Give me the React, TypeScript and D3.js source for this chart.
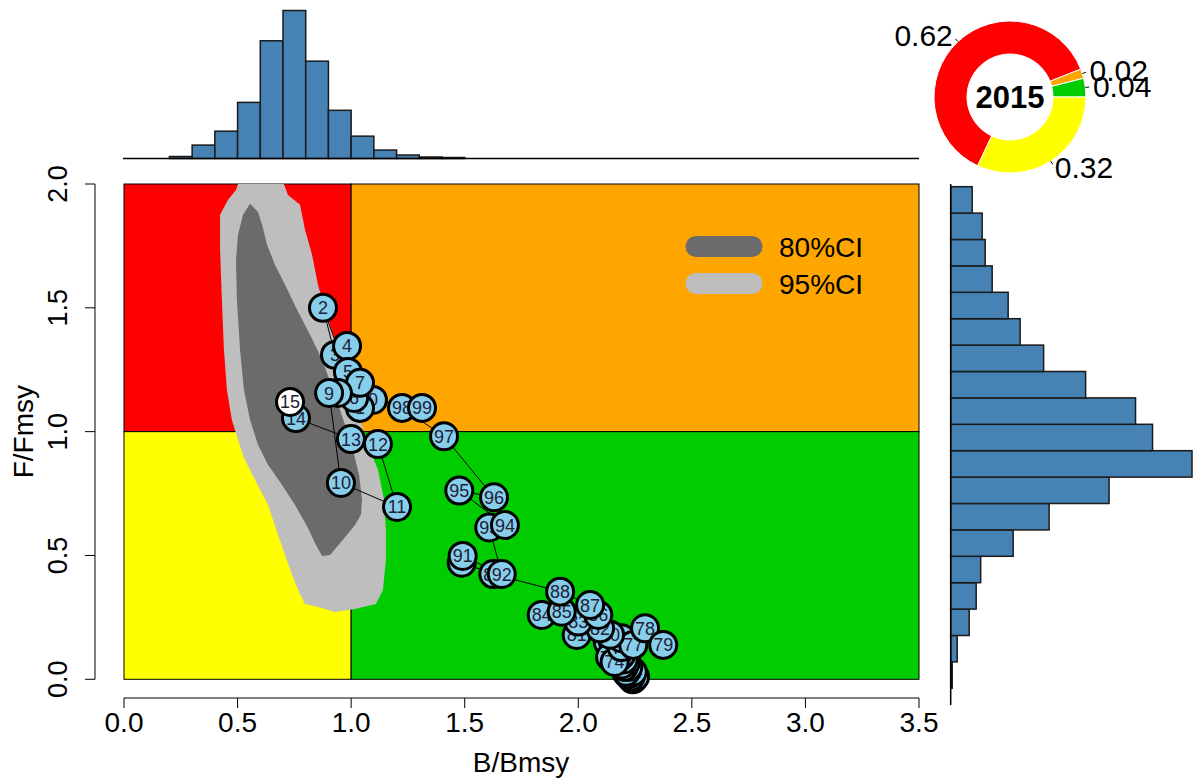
import React from 'react';
import * as d3 from 'd3';

// ---- trajectory (year label, B/Bmsy, F/Fmsy) ----
const trajYears = [
  1950, 1951, 1952, 1953, 1954, 1955, 1956, 1957, 1958, 1959,
  1960, 1961, 1962, 1963, 1964, 1965, 1966, 1967, 1968, 1969,
  1970, 1971, 1972, 1973, 1974, 1975, 1976, 1977, 1978, 1979,
  1980, 1981, 1982, 1983, 1984, 1985, 1986, 1987, 1988, 1989,
  1990, 1991, 1992, 1993, 1994, 1995, 1996, 1997, 1998, 1999,
  2000, 2001, 2002, 2003, 2004, 2005, 2006, 2007, 2008, 2009,
  2010, 2011, 2012, 2013, 2014, 2015,
];
const trajB = [
  2.24, 2.25, 2.23, 2.22, 2.24, 2.21, 2.22, 2.2, 2.21, 2.19,
  2.2, 2.18, 2.19, 2.17, 2.18, 2.16, 2.15, 2.17, 2.14, 2.16,
  2.13, 2.15, 2.17, 2.14, 2.16, 2.19, 2.19, 2.242, 2.294, 2.374,
  2.14, 1.993, 2.096, 2.0, 1.839, 1.927, 2.088, 2.052, 1.92, 1.626,
  1.487, 1.491, 1.663, 1.608, 1.677, 1.476, 1.629, 1.409, 1.224, 1.312,
  1.096, 1.039, 0.876, 0.929, 0.982, 0.986, 1.013, 1.039, 0.942, 0.903,
  0.955, 1.202, 1.118, 0.999, 0.757, 0.731,
];
const trajF = [
  0.0, 0.01, 0.01, 0.02, 0.03, 0.03, 0.05, 0.05, 0.07, 0.06,
  0.08, 0.09, 0.1, 0.1, 0.12, 0.11, 0.13, 0.14, 0.14, 0.15,
  0.15, 0.16, 0.12, 0.09, 0.07, 0.13, 0.166, 0.139, 0.206, 0.139,
  0.18, 0.179, 0.206, 0.233, 0.26, 0.273, 0.26, 0.3, 0.354, 0.425,
  0.471, 0.498, 0.425, 0.613, 0.623, 0.762, 0.735, 0.981, 1.096, 1.096,
  1.128, 1.096, 1.5, 1.31, 1.346, 1.241, 1.136, 1.197, 1.156, 1.156,
  0.793, 0.696, 0.95, 0.97, 1.055, 1.12,
];

// ---- confidence regions (B/Bmsy, F/Fmsy) ----
const ci95 = [
  [0.502, 2.0], [0.704, 2.0], [0.722, 1.956], [0.775, 1.916], [0.797, 1.815],
  [0.828, 1.714], [0.854, 1.593], [0.885, 1.492], [0.929, 1.37], [0.973, 1.249],
  [1.017, 1.128], [1.048, 1.027], [1.074, 0.947], [1.118, 0.846], [1.145, 0.725],
  [1.153, 0.604], [1.153, 0.482], [1.14, 0.361], [1.109, 0.304], [1.017, 0.284],
  [0.929, 0.272], [0.854, 0.292], [0.797, 0.304], [0.77, 0.353], [0.74, 0.421],
  [0.709, 0.502], [0.678, 0.583], [0.634, 0.704], [0.577, 0.805], [0.528, 0.894],
  [0.502, 0.967], [0.475, 1.047], [0.453, 1.168], [0.44, 1.33], [0.431, 1.532],
  [0.423, 1.734], [0.423, 1.876], [0.458, 1.936], [0.493, 1.976],
];
const ci80 = [
  [0.555, 1.92], [0.59, 1.887], [0.608, 1.835], [0.63, 1.754], [0.665, 1.673],
  [0.709, 1.593], [0.762, 1.492], [0.819, 1.391], [0.872, 1.29], [0.929, 1.148],
  [0.973, 1.027], [1.008, 0.926], [1.035, 0.825], [1.048, 0.725], [1.043, 0.664],
  [1.017, 0.623], [0.964, 0.563], [0.907, 0.502], [0.872, 0.498], [0.845, 0.542],
  [0.81, 0.611], [0.753, 0.704], [0.696, 0.785], [0.634, 0.866], [0.59, 0.947],
  [0.555, 1.047], [0.528, 1.168], [0.511, 1.33], [0.497, 1.532], [0.493, 1.694],
  [0.502, 1.795], [0.524, 1.876],
];

// ---- marginal histograms ----
const bHistStart = [0.2, 0.3, 0.4, 0.5, 0.6, 0.7, 0.8, 0.9, 1.0, 1.1, 1.2, 1.3, 1.4];
const bHistCount = [4, 27, 55, 113, 237, 298, 196, 97, 45, 17, 7, 3, 2];
const fHistStart = [0.0, 0.1, 0.2, 0.3, 0.4, 0.5, 0.6, 0.7, 0.8, 0.9, 1.0, 1.1, 1.2, 1.3, 1.4, 1.5, 1.6, 1.7, 1.8];
const fHistCount = [3, 13, 37, 51, 60, 125, 197, 317, 483, 404, 370, 270, 186, 139, 115, 83, 69, 63, 43];

// ---- pie (final year status) ----
const pieYear = '2015';
const pieValues = [0.04, 0.02, 0.62, 0.32];
const pieLabels = ['0.04', '0.02', '0.62', '0.32'];
const pieColors = ['#00CC00', '#FFA500', '#FF0000', '#FFFF00'];

// ---- axes ----
const xTicks = [0, 0.5, 1, 1.5, 2, 2.5, 3, 3.5];
const yTicks = [0, 0.5, 1, 1.5, 2];
const legendLabels = ['80%CI', '95%CI'];
const legendColors = ['#6b6b6b', '#bebebe'];

const FONT = "'Liberation Sans', Arial, sans-serif";

export default function App() {
  const x = d3.scaleLinear().domain([0, 3.5]).range([124, 919]);
  const y = d3.scaleLinear().domain([0, 2]).range([679.3, 184]);

  const hTop = d3.scaleLinear().domain([0, d3.max(bHistCount)!]).range([158.5, 10.5]);
  const fy = d3.scaleLinear().domain([0, 1.9]).range([688.3, 186.7]);
  const fw = d3.scaleLinear().domain([0, d3.max(fHistCount)!]).range([950.7, 1192]);

  const line = d3.line<number>().x((_, i) => x(trajB[i])).y((_, i) => y(trajF[i]));
  const poly = (pts: number[][]) =>
    d3.line<number[]>().x((d) => x(d[0])).y((d) => y(d[1]))(pts) + 'Z';

  // pie
  const cx = 1010, cy = 97, rOut = 76, rIn = 43;
  const arc = d3.arc();
  let acc = 0;
  const slices = pieValues.map((v, i) => {
    const a0 = acc * 2 * Math.PI;
    acc += v;
    const a1 = acc * 2 * Math.PI;
    const mid = (a0 + a1) / 2;
    return { i, a0, a1, mid };
  });

  const quad = [
    { x0: 0, x1: 1, y0: 1, y1: 2, c: '#FF0000' },
    { x0: 1, x1: 3.5, y0: 1, y1: 2, c: '#FFA500' },
    { x0: 0, x1: 1, y0: 0, y1: 1, c: '#FFFF00' },
    { x0: 1, x1: 3.5, y0: 0, y1: 1, c: '#00CC00' },
  ];

  return (
    <svg width={1196} height={781} style={{ display: 'block', position: 'absolute', left: 0, top: 0 }} fontFamily={FONT}>
      <rect width={1196} height={781} fill="#fff" />
      {/* top histogram */}
      {bHistStart.map((s, i) => (
        <rect key={'bt' + i} x={x(s)} y={hTop(bHistCount[i])} width={x(s + 0.1) - x(s)}
          height={hTop(0) - hTop(bHistCount[i])} fill="#4682B4" stroke="#1a1a1a" strokeWidth={1.5} />
      ))}
      <line x1={123} x2={919} y1={158.5} y2={158.5} stroke="#000" strokeWidth={1.5} />

      {/* right histogram */}
      {fHistStart.map((s, i) => (
        <rect key={'fh' + i} x={fw(0)} y={fy(s + 0.1)} width={fw(fHistCount[i]) - fw(0)}
          height={fy(s) - fy(s + 0.1)} fill="#4682B4" stroke="#1a1a1a" strokeWidth={1.5} />
      ))}
      <line x1={950.7} x2={950.7} y1={184} y2={705} stroke="#000" strokeWidth={1.5} />

      {/* quadrants */}
      {quad.map((q, i) => (
        <rect key={'q' + i} x={x(q.x0)} y={y(q.y1)} width={x(q.x1) - x(q.x0)} height={y(q.y0) - y(q.y1)}
          fill={q.c} stroke="#000" strokeWidth={1} />
      ))}
      {/* CI regions */}
      <path d={poly(ci95)} fill="#bebebe" />
      <path d={poly(ci80)} fill="#6b6b6b" />

      {/* legend */}
      {legendLabels.map((l, i) => (
        <g key={'lg' + i}>
          <line x1={696} x2={752} y1={246.5 + i * 37} y2={246.5 + i * 37} stroke={legendColors[i]}
            strokeWidth={21} strokeLinecap="round" />
          <text x={779} y={257 + i * 37} fontSize={28} fill="#000">{l}</text>
        </g>
      ))}

      {/* trajectory */}
      <path d={line(trajB) || ''} fill="none" stroke="#000" strokeWidth={1} />
      {trajYears.map((yr, i) => (
        <g key={'p' + i}>
          <circle cx={x(trajB[i])} cy={y(trajF[i])} r={13.5}
            fill={i === trajYears.length - 1 ? '#fff' : '#87CEEB'} stroke="#000" strokeWidth={3} />
          <text x={x(trajB[i])} y={y(trajF[i]) + 6.5} fontSize={18} textAnchor="middle" fill="#1f2038">
            {String(yr % 100)}
          </text>
        </g>
      ))}

      {/* x axis */}
      <line x1={x(0)} x2={x(3.5)} y1={698} y2={698} stroke="#000" strokeWidth={1} />
      {xTicks.map((t) => (
        <g key={'xt' + t}>
          <line x1={x(t)} x2={x(t)} y1={698} y2={708} stroke="#000" strokeWidth={1} />
          <text x={x(t)} y={732} fontSize={28} textAnchor="middle">{t.toFixed(1)}</text>
        </g>
      ))}
      <text x={521} y={772} fontSize={28} textAnchor="middle">B/Bmsy</text>

      {/* y axis */}
      <line x1={95} x2={95} y1={y(0)} y2={y(2)} stroke="#000" strokeWidth={1} />
      {yTicks.map((t) => (
        <g key={'yt' + t}>
          <line x1={85} x2={95} y1={y(t)} y2={y(t)} stroke="#000" strokeWidth={1} />
          <text transform={`translate(67,${y(t)}) rotate(-90)`} fontSize={27} textAnchor="middle">{t.toFixed(1)}</text>
        </g>
      ))}
      <text transform={`translate(33,${y(1)}) rotate(-90)`} fontSize={28} textAnchor="middle">F/Fmsy</text>

      {/* pie */}
      <g transform={`translate(${cx},${cy})`}>
        {slices.map((s) => (
          <path key={'pie' + s.i}
            d={arc({ innerRadius: rIn, outerRadius: rOut, startAngle: Math.PI / 2 - s.a1, endAngle: Math.PI / 2 - s.a0 }) || ''}
            fill={pieColors[s.i]} stroke="#fff" strokeWidth={1} />
        ))}
        {slices.map((s) => {
          const c = Math.cos(s.mid), sn = -Math.sin(s.mid);
          const right = c >= 0;
          return (
            <g key={'pl' + s.i}>
              <line x1={rOut * c} y1={rOut * sn} x2={rOut * 1.05 * c} y2={rOut * 1.05 * sn} stroke="#000" strokeWidth={1} />
              <text x={rOut * 1.1 * c} y={rOut * 1.1 * sn + 10} fontSize={30} textAnchor={right ? 'start' : 'end'}>
                {pieLabels[s.i]}
              </text>
            </g>
          );
        })}
        <text x={0} y={11} fontSize={31} fontWeight="bold" textAnchor="middle">{pieYear}</text>
      </g>
    </svg>
  );
}
